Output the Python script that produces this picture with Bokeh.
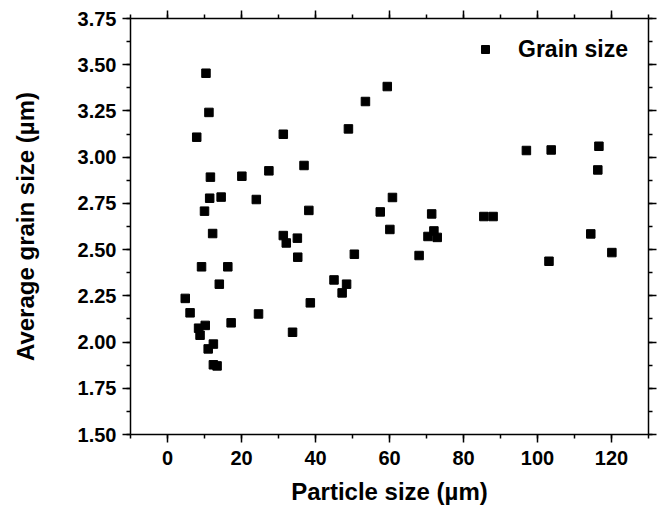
from bokeh.plotting import figure
from bokeh.models import (ColumnDataSource, LinearAxis, SingleIntervalTicker,
                          PrintfTickFormatter, Range1d, Legend, LegendItem,
                          CustomLabelingPolicy)
from bokeh.embed import file_html
from bokeh.resources import INLINE

# Particle size (µm)
particle_size = [4.8, 6.1, 7.9, 8.4, 8.8, 9.2, 10.0, 10.2, 10.4, 11.0,
                 11.2, 11.4, 11.6, 12.2, 12.4, 12.4, 13.4, 14.0, 14.5, 16.3,
                 17.2, 20.1, 24.0, 24.6, 27.4, 31.3, 31.3, 32.1, 33.8, 35.1,
                 35.2, 36.9, 38.2, 38.6, 45.0, 47.2, 48.4, 48.9, 50.5, 53.5,
                 57.5, 59.4, 60.1, 60.8, 68.0, 70.4, 71.4, 72.0, 72.9, 85.5,
                 88.0, 97.0, 103.1, 103.7, 114.4, 116.3, 116.6, 120.1]
# Average grain size (µm)
grain_size = [2.236, 2.158, 3.108, 2.075, 2.037, 2.407, 2.708, 2.090, 3.454, 1.963,
              3.242, 2.778, 2.892, 2.587, 1.989, 1.877, 1.871, 2.313, 2.784, 2.407,
              2.104, 2.897, 2.771, 2.152, 2.926, 3.124, 2.576, 2.536, 2.053, 2.562,
              2.459, 2.955, 2.712, 2.212, 2.336, 2.266, 2.313, 3.153, 2.475, 3.301,
              2.704, 3.382, 2.609, 2.782, 2.468, 2.571, 2.693, 2.601, 2.566, 2.679,
              2.679, 3.036, 2.437, 3.039, 2.585, 2.931, 3.059, 2.484]

series_label = "Grain size"
x_title = "Particle size (µm)"
y_title = "Average grain size (µm)"

FONT = "Liberation Sans"

p = figure(width=664, height=519, output_backend="svg", toolbar_location=None,
           x_range=Range1d(-10, 130), y_range=Range1d(1.5, 3.75),
           min_border_left=130, min_border_right=16, min_border_top=18,
           min_border_bottom=85, x_axis_location=None, y_axis_location=None)
p.grid.visible = False
p.outline_line_color = None
p.background_fill_color = "white"

src = ColumnDataSource(dict(x=particle_size, y=grain_size))
r = p.scatter("x", "y", source=src, marker="square", size=8.5,
              fill_color="black", line_color="black")

xt = SingleIntervalTicker(interval=20, num_minor_ticks=2)
yt = SingleIntervalTicker(interval=0.25, num_minor_ticks=2)

hide_all = CustomLabelingPolicy(
    code="for (let i = 0; i < indices.size; i++) { indices.unset(i) } return indices")


def style(ax, show_labels):
    ax.axis_line_width = 1.5
    ax.axis_line_color = "black"
    ax.major_tick_line_width = 1.5
    ax.minor_tick_line_width = 1.5
    ax.major_tick_line_color = "black"
    ax.minor_tick_line_color = "black"
    ax.major_tick_in = 0
    ax.major_tick_out = 8
    ax.minor_tick_in = 0
    ax.minor_tick_out = 4
    if show_labels:
        ax.major_label_text_font = FONT
        ax.major_label_text_font_style = "bold"
        ax.major_label_text_font_size = "20px"
        ax.major_label_text_color = "black"
        ax.axis_label_text_font = FONT
        ax.axis_label_text_font_style = "bold"
        ax.axis_label_text_font_size = "24px"
        ax.axis_label_text_color = "black"
    else:
        ax.major_label_text_font_size = "1px"
        ax.major_label_standoff = 0
        ax.major_label_policy = hide_all


xb = LinearAxis(ticker=xt, axis_label=x_title)
style(xb, True)
xb.major_label_standoff = 8
xb.axis_label_standoff = 10
p.add_layout(xb, "below")

yl = LinearAxis(ticker=yt, axis_label=y_title,
                formatter=PrintfTickFormatter(format="%.2f"))
style(yl, True)
yl.major_label_standoff = 6
yl.axis_label_standoff = 36
p.add_layout(yl, "left")

xa = LinearAxis(ticker=xt)
style(xa, False)
p.add_layout(xa, "above")

yr = LinearAxis(ticker=yt)
style(yr, False)
p.add_layout(yr, "right")

legend = Legend(items=[LegendItem(label=series_label, renderers=[r])],
                location=(345, 371), border_line_color=None,
                background_fill_alpha=0, padding=0, margin=0,
                glyph_width=20, glyph_height=28, label_standoff=23,
                label_text_font=FONT, label_text_font_style="bold",
                label_text_font_size="23px", label_text_color="black")
p.add_layout(legend)

open("out.html", "w").write(file_html(p, INLINE))
